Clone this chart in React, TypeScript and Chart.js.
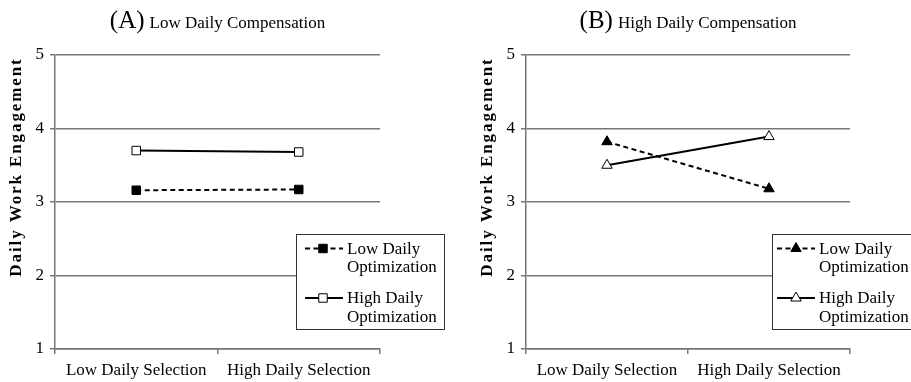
import React, { useEffect, useRef } from 'react';
import { Chart, registerables } from 'chart.js';
Chart.register(...registerables);

const categories = ['Low Daily Selection', 'High Daily Selection'];
const lowOptLowComp = [3.16, 3.17];
const highOptLowComp = [3.7, 3.68];
const lowOptHighComp = [3.82, 3.18];
const highOptHighComp = [3.5, 3.89];
const yMin = 1;
const yMax = 5;
const yStep = 1;
const seriesLabels = [['Low Daily', 'Optimization'], ['High Daily', 'Optimization']];
const panelLetters = ['(A)', '(B)'];
const panelTitles = ['Low Daily Compensation', 'High Daily Compensation'];
const yTitle = 'Daily Work Engagement';

const FONT = "'Liberation Serif', 'Times New Roman', serif";
const H = 382;

type Panel = {
  left: number;
  width: number;
  plotLeft: number;
  plotRight: number;
  yTitleX: number;
  legend: { l: number; r: number; t: number; b: number; s0: number; s1: number; m: number; tx: number };
  pointStyle: string;
  radius: number;
  series: [number[], number[]];
  letter: string;
  title: string;
};

const panels: Panel[] = [
  {
    left: 0, width: 465, plotLeft: 55, plotRight: 380, yTitleX: 17,
    legend: { l: 296.5, r: 444.5, t: 234.5, b: 329.5, s0: 305, s1: 343, m: 323, tx: 347 },
    pointStyle: 'rect', radius: 6,
    series: [lowOptLowComp, highOptLowComp], letter: panelLetters[0], title: panelTitles[0],
  },
  {
    left: 465, width: 446, plotLeft: 61, plotRight: 385, yTitleX: 23,
    legend: { l: 307.5, r: 470, t: 234.5, b: 329.5, s0: 312, s1: 350, m: 331, tx: 354 },
    pointStyle: 'triangle', radius: 6,
    series: [lowOptHighComp, highOptHighComp], letter: panelLetters[1], title: panelTitles[1],
  },
];

function drawMarker(ctx: CanvasRenderingContext2D, style: string, x: number, y: number, r: number, filled: boolean) {
  ctx.save();
  ctx.beginPath();
  if (style === 'rect') {
    const s = Math.SQRT1_2 * r;
    ctx.rect(x - s, y - s, 2 * s, 2 * s);
  } else {
    for (let i = 0; i < 3; i++) {
      const a = (i * 2 * Math.PI) / 3;
      const px = x + Math.sin(a) * r;
      const py = y - Math.cos(a) * r;
      if (i === 0) ctx.moveTo(px, py); else ctx.lineTo(px, py);
    }
    ctx.closePath();
  }
  ctx.fillStyle = filled ? '#000' : '#fff';
  ctx.fill();
  ctx.strokeStyle = '#000';
  ctx.lineWidth = 1;
  ctx.stroke();
  ctx.restore();
}

function makeOverlay(p: Panel) {
  return {
    id: 'overlay',
    afterDraw(chart: any) {
      const ctx: CanvasRenderingContext2D = chart.ctx;
      const area = chart.chartArea;
      ctx.save();
      // title
      ctx.fillStyle = '#000';
      ctx.textBaseline = 'alphabetic';
      ctx.font = `25px ${FONT}`;
      const wl = ctx.measureText(p.letter).width;
      ctx.font = `17px ${FONT}`;
      const wt = ctx.measureText(p.title).width;
      const gap = 5;
      const cx = (area.left + area.right) / 2;
      const x0 = cx - (wl + gap + wt) / 2;
      ctx.textAlign = 'left';
      ctx.font = `25px ${FONT}`;
      ctx.fillText(p.letter, x0, 28);
      ctx.font = `17px ${FONT}`;
      ctx.fillText(p.title, x0 + wl + gap, 28);
      // y title
      ctx.save();
      ctx.translate(p.yTitleX, 167);
      ctx.rotate(-Math.PI / 2);
      ctx.font = `bold 17px ${FONT}`;
      (ctx as any).letterSpacing = '1.9px';
      ctx.textAlign = 'center';
      ctx.textBaseline = 'middle';
      ctx.fillText(yTitle, 0, 0);
      ctx.restore();
      // legend
      const L = p.legend;
      ctx.fillStyle = '#fff';
      ctx.fillRect(L.l, L.t, L.r - L.l, L.b - L.t);
      ctx.strokeStyle = '#333';
      ctx.lineWidth = 1;
      ctx.strokeRect(L.l, L.t, L.r - L.l, L.b - L.t);
      const rows = [[248.5, 267], [298, 316.5]];
      for (let i = 0; i < 2; i++) {
        const sy = rows[i][0];
        ctx.save();
        ctx.strokeStyle = '#000';
        ctx.lineWidth = 2;
        ctx.setLineDash(i === 0 ? [5, 3.5] : []);
        ctx.beginPath();
        ctx.moveTo(L.s0, sy);
        ctx.lineTo(L.s1, sy);
        ctx.stroke();
        ctx.restore();
        drawMarker(ctx, p.pointStyle, L.m, sy, p.radius, i === 0);
        ctx.fillStyle = '#000';
        ctx.font = `17px ${FONT}`;
        ctx.textAlign = 'left';
        ctx.textBaseline = 'middle';
        ctx.fillText(seriesLabels[i][0], L.tx, rows[i][0] + 1);
        ctx.fillText(seriesLabels[i][1], L.tx, rows[i][1] + 1);
      }
      ctx.restore();
    },
  };
}

function PanelChart({ p }: { p: Panel }) {
  const ref = useRef<HTMLCanvasElement>(null);
  useEffect(() => {
    if (!ref.current) return;
    const gridColor = '#777777';
    const chart = new Chart(ref.current, {
      type: 'line',
      data: {
        labels: categories,
        datasets: [
          {
            label: seriesLabels[0].join(' '),
            data: p.series[0],
            borderColor: '#000',
            borderWidth: 2,
            borderDash: [5, 3.5],
            pointStyle: p.pointStyle as any,
            pointRadius: p.radius,
            pointBackgroundColor: '#000',
            pointBorderColor: '#000',
            pointBorderWidth: 1,
          },
          {
            label: seriesLabels[1].join(' '),
            data: p.series[1],
            borderColor: '#000',
            borderWidth: 2,
            pointStyle: p.pointStyle as any,
            pointRadius: p.radius,
            pointBackgroundColor: '#fff',
            pointBorderColor: '#000',
            pointBorderWidth: 1,
          },
        ],
      },
      options: {
        responsive: false,
        animation: false,
        layout: { padding: { left: 0, right: p.width - p.plotRight, top: 55, bottom: 0 } },
        plugins: { legend: { display: false }, tooltip: { enabled: false }, title: { display: false } },
        scales: {
          x: {
            type: 'category',
            offset: true,
            grid: { offset: true, drawOnChartArea: false, drawTicks: true, tickLength: 5, color: gridColor, lineWidth: 1.5 },
            border: { color: gridColor, width: 1.5 },
            ticks: { font: { family: FONT, size: 17 }, color: '#000', padding: 6, maxRotation: 0 },
            afterFit: (s: any) => { s.height = H - 349; },
          },
          y: {
            min: yMin,
            max: yMax,
            ticks: { stepSize: yStep, font: { family: FONT, size: 17 }, color: '#000', padding: 6 },
            grid: { color: gridColor, lineWidth: 1.5, tickLength: 5 },
            border: { color: gridColor, width: 1.5 },
            afterFit: (s: any) => { s.width = p.plotLeft; },
          },
        },
      },
      plugins: [makeOverlay(p)],
    });
    return () => chart.destroy();
  }, [p]);
  return (
    <canvas
      ref={ref}
      width={p.width}
      height={H}
      style={{ position: 'absolute', left: p.left, top: 0, width: p.width, height: H }}
    />
  );
}

export default function App() {
  return (
    <div style={{ position: 'fixed', left: 0, top: 0, width: 911, height: H, background: '#fff', overflow: 'hidden' }}>
      {panels.map((p, i) => (
        <PanelChart key={i} p={p} />
      ))}
    </div>
  );
}
